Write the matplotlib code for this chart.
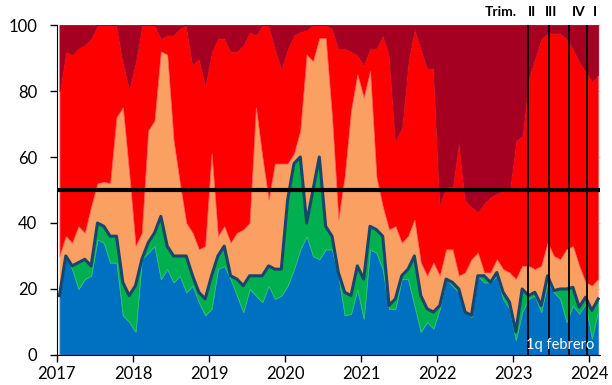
import numpy as np
import matplotlib.pyplot as plt

plt.rcParams['font.family'] = ['Lato', 'DejaVu Sans']

# monthly shares (%), Jan 2017 - Feb 2024
blue = [18, 30, 26, 20, 23, 24, 35, 34, 28, 28, 12, 10, 7, 29, 31, 33, 23, 26, 22, 24,
        19, 21, 16, 12, 14, 26, 27, 23, 18, 13, 20, 18, 16, 21, 17, 18, 21, 26, 32, 36,
        30, 29, 32, 32, 24, 12, 12.5, 20, 11, 32, 31, 26, 14, 14, 23, 23, 15, 7, 10, 8,
        14, 23, 21, 19, 13, 11.5, 24, 22, 22, 24, 17, 14, 4.5, 13, 17, 18, 13, 22, 19, 17,
        10, 15, 12.5, 15.5, 5, 13.5]
green = [0, 0, 1, 8, 6, 3, 5, 5, 8, 8, 10, 8, 14, 0, 3, 4, 19, 7, 8, 6,
         11, 3, 3, 5, 10, 4, 6, 1, 5, 8, 4, 6, 8, 6, 9, 8, 26, 32, 28, 4,
         20, 31, 7, 4, 1, 7, 5.5, 7, 12, 7, 7, 10, 1, 3, 1, 3, 15, 11, 4, 5,
         1, 0, 1, 1, 0, 0.5, 0, 2, 0, 1, 2, 2, 2.5, 7, 1, 1, 2, 2, 0.5, 3,
         10, 5.5, 2, 2, 8.5, 3.5]
orange = [12, 6, 7, 11, 8, 18, 12, 13.5, 16, 36, 53, 37, 12, 8, 34, 34, 50, 58, 35, 22,
          10, 13, 13, 16, 37, 6, 6, 10, 14, 17, 16, 51, 36, 20, 32, 32, 11, 3, 8, 51,
          39, 36, 57, 36, 16, 35, 56, 58, 55, 47, 16, 9, 23, 22, 10, 10, 11, 10, 10, 15,
          9, 9, 10, 4, 12, 17, 7, 1, 3, 4, 7, 9, 16, 7, 9, 7, 12, 10, 10.5, 9,
          12, 12.5, 12.5, 4.5, 7.5, 6]
red = [50, 56, 57, 54, 57, 51, 48, 47.5, 48, 28, 14, 26, 56, 63, 32, 29, 4, 6, 32, 47,
       60, 51, 58, 49, 31, 60, 57, 58, 55, 56, 58, 22, 40, 53, 35, 29, 35, 36, 30, 7.5,
       11, 4, 4, 27, 52, 39, 18, 6, 10, 7, 39, 52, 53, 26, 35, 53, 58, 65, 63, 59,
       22, 19, 19, 41, 22, 16, 12.5, 21, 23, 20, 24, 25, 42, 39.5, 57, 64, 69, 63.5, 67.5, 68.5,
       64, 60, 62, 64, 62, 62]
darkred = [20, 8, 9, 7, 6, 4, 0, 0, 0, 0, 11, 19, 11, 0, 0, 0, 4, 3, 3, 1,
           0, 12, 10, 18, 8, 4, 4, 8, 8, 6, 2, 3, 0, 0, 7, 13, 7, 3, 2, 1.5,
           0, 0, 0, 1, 7, 7, 8, 9, 12, 7, 7, 3, 9, 35, 31, 11, 1, 7, 13, 13,
           54, 49, 49, 35, 53, 55, 56.5, 54, 52, 51, 50, 50, 35, 33.5, 16, 10, 4, 2.5, 2.5, 2.5,
           4, 7, 11, 14, 17, 15]

years = [2017, 2018, 2019, 2020, 2021, 2022, 2023, 2024]
quarter_lines = [2023.20, 2023.465, 2023.73, 2023.97]

x = 2017 + (np.arange(len(blue)) + 0.4) / 12
colors = ['#0070C0', '#00B050', '#F9A062', '#FF0000', '#A50021']
edges = ['#3C8FD0', '#2DC46A', '#FBB888', '#FF6060', '#A50021']

fig = plt.figure(figsize=(6.12, 3.85), dpi=100)
ax = fig.add_axes([0.093, 0.078, 0.888, 0.857])

polys = ax.stackplot(x, blue, green, orange, red, darkred, colors=colors)
for p, ec in zip(polys, edges):
    p.set_edgecolor(ec)
    p.set_linewidth(0.6)

total = np.array(blue) + np.array(green)
ax.plot(x, total, color='#17456B', lw=2.2, solid_joinstyle='round')

ax.axhline(50, color='black', lw=3)
for q in quarter_lines:
    ax.axvline(q, color='black', lw=1.3)

ax.set_xlim(2017, 2024.145)
ax.set_ylim(0, 100)
ax.set_xticks(years)
ax.set_yticks(range(0, 101, 20))
ax.tick_params(axis='both', labelsize=12, direction='out', length=5, width=1)
ax.tick_params(axis='x', pad=3)
ax.tick_params(axis='y', pad=9)
for s in ['top', 'right']:
    ax.spines[s].set_visible(False)

sec = ax.secondary_yaxis('right')
sec.set_yticks(range(0, 101, 20))
sec.set_yticklabels([])
sec.tick_params(color='#D0D0D0', length=4, direction='in')
sec.spines['right'].set_visible(False)

ax.text(2024.06, 1.0, '1q febrero', color='white', fontsize=10.5,
        ha='right', va='bottom')
for lab, xp in zip(['Trim.', 'II', 'III', 'IV', 'I'],
                   [2022.84, 2023.24, 2023.5, 2023.855, 2024.08]):
    ax.text(xp, 102, lab, fontsize=10, fontweight='bold', ha='center',
            va='bottom', clip_on=False)

fig.savefig('out.png', dpi=100)
